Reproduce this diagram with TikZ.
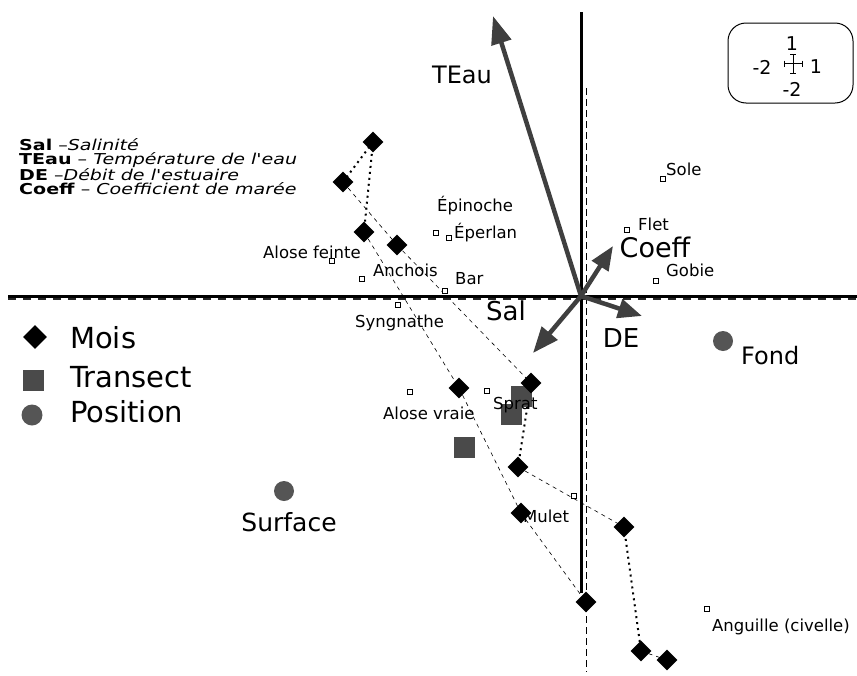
\documentclass[tikz,border=0pt]{standalone}
\usepackage{fontspec}
\setmainfont{DejaVu Sans}
\newfontfamily\legfont[FakeStretch=1.27]{DejaVu Sans}
\usetikzlibrary{shapes.geometric,arrows.meta,backgrounds}
\definecolor{agray}{HTML}{3F3F3F}
\definecolor{tgray}{HTML}{4A4A4A}
\definecolor{pgray}{HTML}{555555}
\begin{document}
\begin{tikzpicture}[x=1pt,y=-1pt,
  mois/.style={diamond,fill=black,inner sep=0pt,minimum size=21pt},
  transect/.style={rectangle,fill=tgray,inner sep=0pt,minimum size=21pt},
  posn/.style={circle,fill=pgray,inner sep=0pt,minimum size=20pt},
  sp/.style={rectangle,draw=black,line width=0.8pt,fill=white,inner sep=0pt,minimum size=4.5pt},
  splab/.style={font=\fontsize{16.5}{16.5}\selectfont,inner sep=0pt,anchor=west},
  vec/.style={draw=agray,line width=4.5pt,-{Triangle[length=28pt,width=20pt]}},
  vlab/.style={font=\fontsize{26}{26}\selectfont,inner sep=0pt},
  biglab/.style={font=\fontsize{29}{29}\selectfont,inner sep=0pt,anchor=west},
  leg/.style={font=\legfont\fontsize{15}{15}\selectfont,inner sep=0pt,anchor=west},
  boxt/.style={font=\fontsize{19}{19}\selectfont,inner sep=0pt},
  dotline/.style={line width=2pt,dash pattern=on 2pt off 4pt},
  trail/.style={line width=0.6pt,dash pattern=on 4pt off 4pt},
]
\useasboundingbox (0,0) rectangle (857,675);

% axes
\coordinate (hl) at (8,296);
\coordinate (hr) at (857,296);
\coordinate (hdl) at (8,299);
\coordinate (hdr) at (857,299);
\coordinate (vt) at (581,12);
\coordinate (vb) at (581,593);
\coordinate (vdt) at (586,88);
\coordinate (vdb) at (586,672);
\draw[line width=2.5pt,dash pattern=on 8pt off 7pt,black!85] (hdl) -- (hdr);
\draw[line width=3pt] (hl) -- (hr);
\draw[line width=0.9pt,dash pattern=on 7pt off 4pt] (vdt) -- (vdb);
\draw[line width=3pt] (vt) -- (vb);

% legend top-left
\node[leg] (l1) at (19,145) {\textbf{Sal} –\textit{Salinité}};
\node[leg] (l2) at (19,160) {\textbf{TEau} – \textit{Température de l'eau}};
\node[leg] (l3) at (19,174.5) {\textbf{DE} –\textit{Débit de l'estuaire}};
\node[leg] (l4) at (19,189) {\textbf{Coeff} – \textit{Coefficient de marée}};

% legend bottom-left
\node[mois,minimum size=24pt] (kM) at (35,337) {};
\node[transect] (kT) at (33,380) {};
\node[posn,minimum size=21pt] (kP) at (32,415) {};
\node[biglab] (tM) at (70,338) {Mois};
\node[biglab] (tT) at (70,377) {Transect};
\node[biglab] (tP) at (70,412) {Position};

% scale box
\node[draw,rounded corners=18pt,line width=1pt,minimum width=125pt,minimum height=80pt,inner sep=0pt] (box) at (790.5,63) {};
\node[boxt] (b1) at (792,44) {1};
\node[boxt] (b2) at (762,67) {-2};
\node[boxt] (b3) at (816,67) {1};
\node[boxt] (b4) at (792,89) {-2};
\draw[line width=0.7pt] (793,54) -- (793,73) (790,54) -- (796,54) (790,73) -- (796,73)
  (784,63.5) -- (802,63.5) (784,60.5) -- (784,66.5) (802,60.5) -- (802,66.5);

% species
\node[sp] (sSole) at (663,179) {};
\node[sp] (sFlet) at (627,230) {};
\node[sp] (sGobie) at (656,281) {};
\node[sp] (sEpi) at (436,233) {};
\node[sp] (sEpe) at (449,238) {};
\node[sp] (sAf) at (332,261) {};
\node[sp] (sAn) at (362,279) {};
\node[sp] (sBar) at (445,291) {};
\node[sp] (sSyn) at (398,305) {};
\node[sp] (sAv) at (410,392) {};
\node[sp] (sSpr) at (487,391) {};
\node[sp] (sMul) at (574,496) {};
\node[sp] (sAng) at (707,609) {};

% transects and positions
\node[transect] (t1) at (521,396) {};
\node[transect] (t2) at (511,414) {};
\node[transect] (t3) at (464,447) {};
\node[posn] (pS) at (284,491) {};
\node[posn] (pF) at (723,341) {};
\node[font=\fontsize{25}{25}\selectfont,inner sep=0pt] (lS) at (289,522) {Surface};
\node[font=\fontsize{24}{24}\selectfont,inner sep=0pt,anchor=west] (lF) at (741,356) {Fond};

% months
\node[mois] (m1) at (373,142) {};
\node[mois] (m2) at (343,182) {};
\node[mois] (m3) at (364,232) {};
\node[mois] (m4) at (397,245) {};
\node[mois] (m5) at (459,388) {};
\node[mois] (m6) at (531,383) {};
\node[mois] (m7) at (518,467) {};
\node[mois] (m8) at (521,513) {};
\node[mois] (m9) at (586,602) {};
\node[mois] (m10) at (624,527) {};
\node[mois] (m11) at (641,651) {};
\node[mois] (m12) at (667,660) {};

\begin{scope}[on background layer]
\draw[dotline] (m1.center) -- (m2.center);
\draw[dotline] (m1.center) -- (m3.center);
\draw[dotline] (m6.center) -- (m7.center);
\draw[dotline] (m10.center) -- (m11.center);
\draw[trail] (m2.center) -- (m4.center);
\draw[trail] (m4.center) -- (m6.center);
\draw[trail] (m3.center) -- (m5.center);
\draw[trail] (m5.center) -- (m8.center);
\draw[trail] (m8.center) -- (m9.center);
\draw[trail] (m7.center) -- (m10.center);
\draw[trail] (m11.center) -- (m12.center);
\end{scope}

% species labels
\node[splab] (lSole) at (666,169) {Sole};
\node[splab] (lFlet) at (638,224) {Flet};
\node[splab] (lGobie) at (666,270) {Gobie};
\node[splab] (lEpi) at (437,206) {Épinoche};
\node[splab] (lEpe) at (454,233) {Éperlan};
\node[splab] (lAf) at (263,252) {Alose feinte};
\node[splab] (lAn) at (373,270) {Anchois};
\node[splab] (lBar) at (455,279) {Bar};
\node[splab] (lSyn) at (355,323) {Syngnathe};
\node[splab] (lAv) at (383,413) {Alose vraie};
\node[splab] (lSpr) at (493,405) {Sprat};
\node[splab] (lMul) at (523,516) {Mulet};
\node[splab] (lAng) at (712,627) {Anguille (civelle)};

% vectors
\coordinate (O) at (581,296);
\coordinate (tTE) at (493,16);
\coordinate (tCo) at (613,246);
\coordinate (tDE) at (642,316);
\coordinate (tSal) at (533,353);
\draw[vec] (O) -- (tTE);
\draw[vec,-{Triangle[length=24pt,width=19pt]}] (O) -- (tCo);
\draw[vec,-{Triangle[length=24pt,width=19pt]}] (O) -- (tDE);
\draw[vec,-{Triangle[length=26pt,width=20pt]}] (O) -- (tSal);
\node[vlab,font=\fontsize{24}{24}\selectfont] (lTE) at (462,75) {TEau};
\node[vlab,font=\fontsize{27}{27}\selectfont] (lCo) at (655,247) {Coeff};
\node[vlab] (lDE) at (621,338) {DE};
\node[vlab] (lSal) at (506,311) {Sal};
\end{tikzpicture}
\end{document}
